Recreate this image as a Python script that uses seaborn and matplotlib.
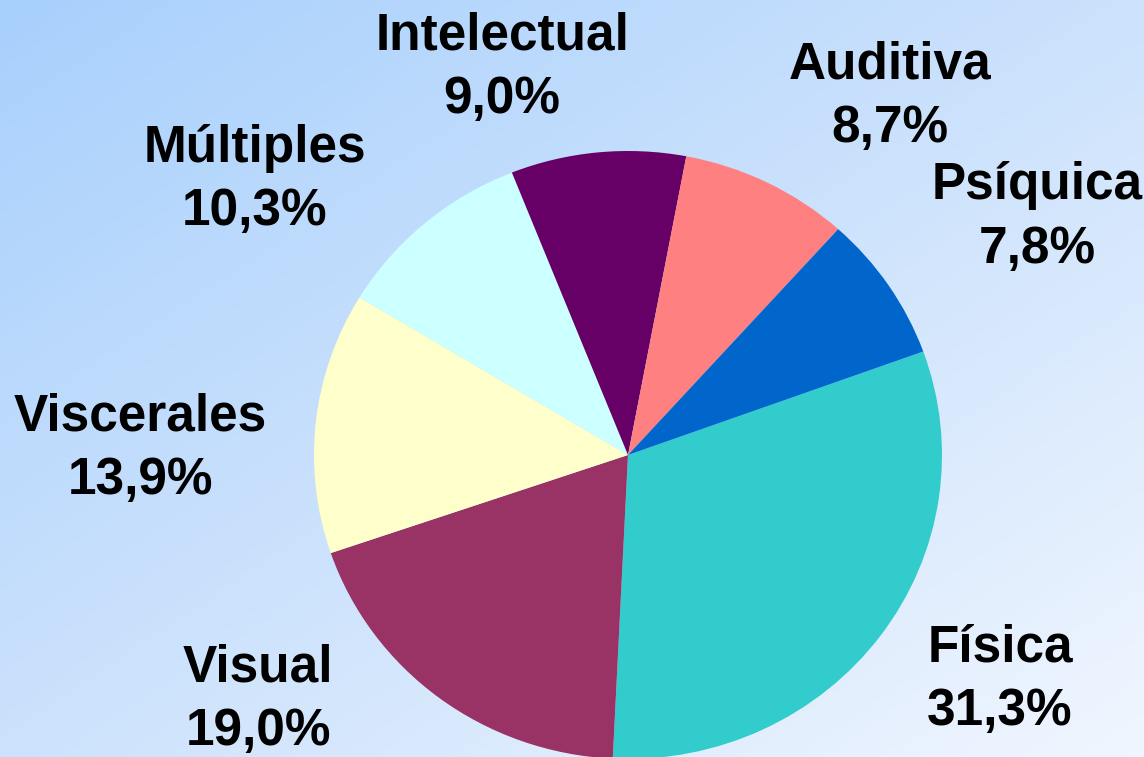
import numpy as np
import matplotlib
matplotlib.use("Agg")
import matplotlib.pyplot as plt
from matplotlib.colors import LinearSegmentedColormap
import seaborn as sns

sns.set_theme(style="white")
plt.rcParams['font.family'] = ['Liberation Sans', 'DejaVu Sans']

# data (clockwise from the right)
categories = ['Física', 'Visual', 'Viscerales', 'Múltiples', 'Intelectual', 'Auditiva', 'Psíquica']
shares = [31.3, 19.0, 13.9, 10.3, 9.0, 8.7, 7.8]
colors = ['#33CCCC', '#993366', '#FFFFCC', '#CCFFFF', '#660066', '#FF8080', '#0066CC']

# label placement: (x, y) in units of pie radius, relative to centre
label_pos = [(1.185, -0.740), (-1.178, -0.806), (-1.554, 0.020), (-1.188, 0.905),
             (-0.401, 1.275), (0.834, 1.179), (1.303, 0.781)]

fig = plt.figure(figsize=(11.44, 7.57), dpi=100)
ax = fig.add_axes([0, 0, 1, 1])
# pie is slightly squashed vertically (314 px wide radius, 304 px tall)
x0, x1 = -628 / 314, (1144 - 628) / 314
y0, y1 = -(757 - 455) / 304, 455 / 304

# diagonal gradient background
gx, gy = np.meshgrid(np.linspace(0, 1, 300), np.linspace(0, 1, 200))
t = (gx + gy) / 2
bg = LinearSegmentedColormap.from_list('bg', ['#A8D0FC', '#CCE2FC', '#F0F6FF'])
ax.imshow(t, cmap=bg, extent=[x0, x1, y0, y1], origin='upper', aspect='auto', zorder=0)

ax.pie(shares, colors=colors, startangle=19.9, counterclock=False, radius=1,
       center=(0, 0), wedgeprops=dict(linewidth=0), frame=True)
ax.set_aspect('auto')
ax.set_xlim(x0, x1)
ax.set_ylim(y0, y1)
ax.axis('off')

for name, val, (lx, ly) in zip(categories, shares, label_pos):
    ax.text(lx, ly, f"{name}\n{val:.1f}%".replace('.', ','), ha='center', va='center',
            fontsize=37, fontweight='bold', color='black', linespacing=1.38, zorder=5)

fig.savefig('out.png', dpi=100)
